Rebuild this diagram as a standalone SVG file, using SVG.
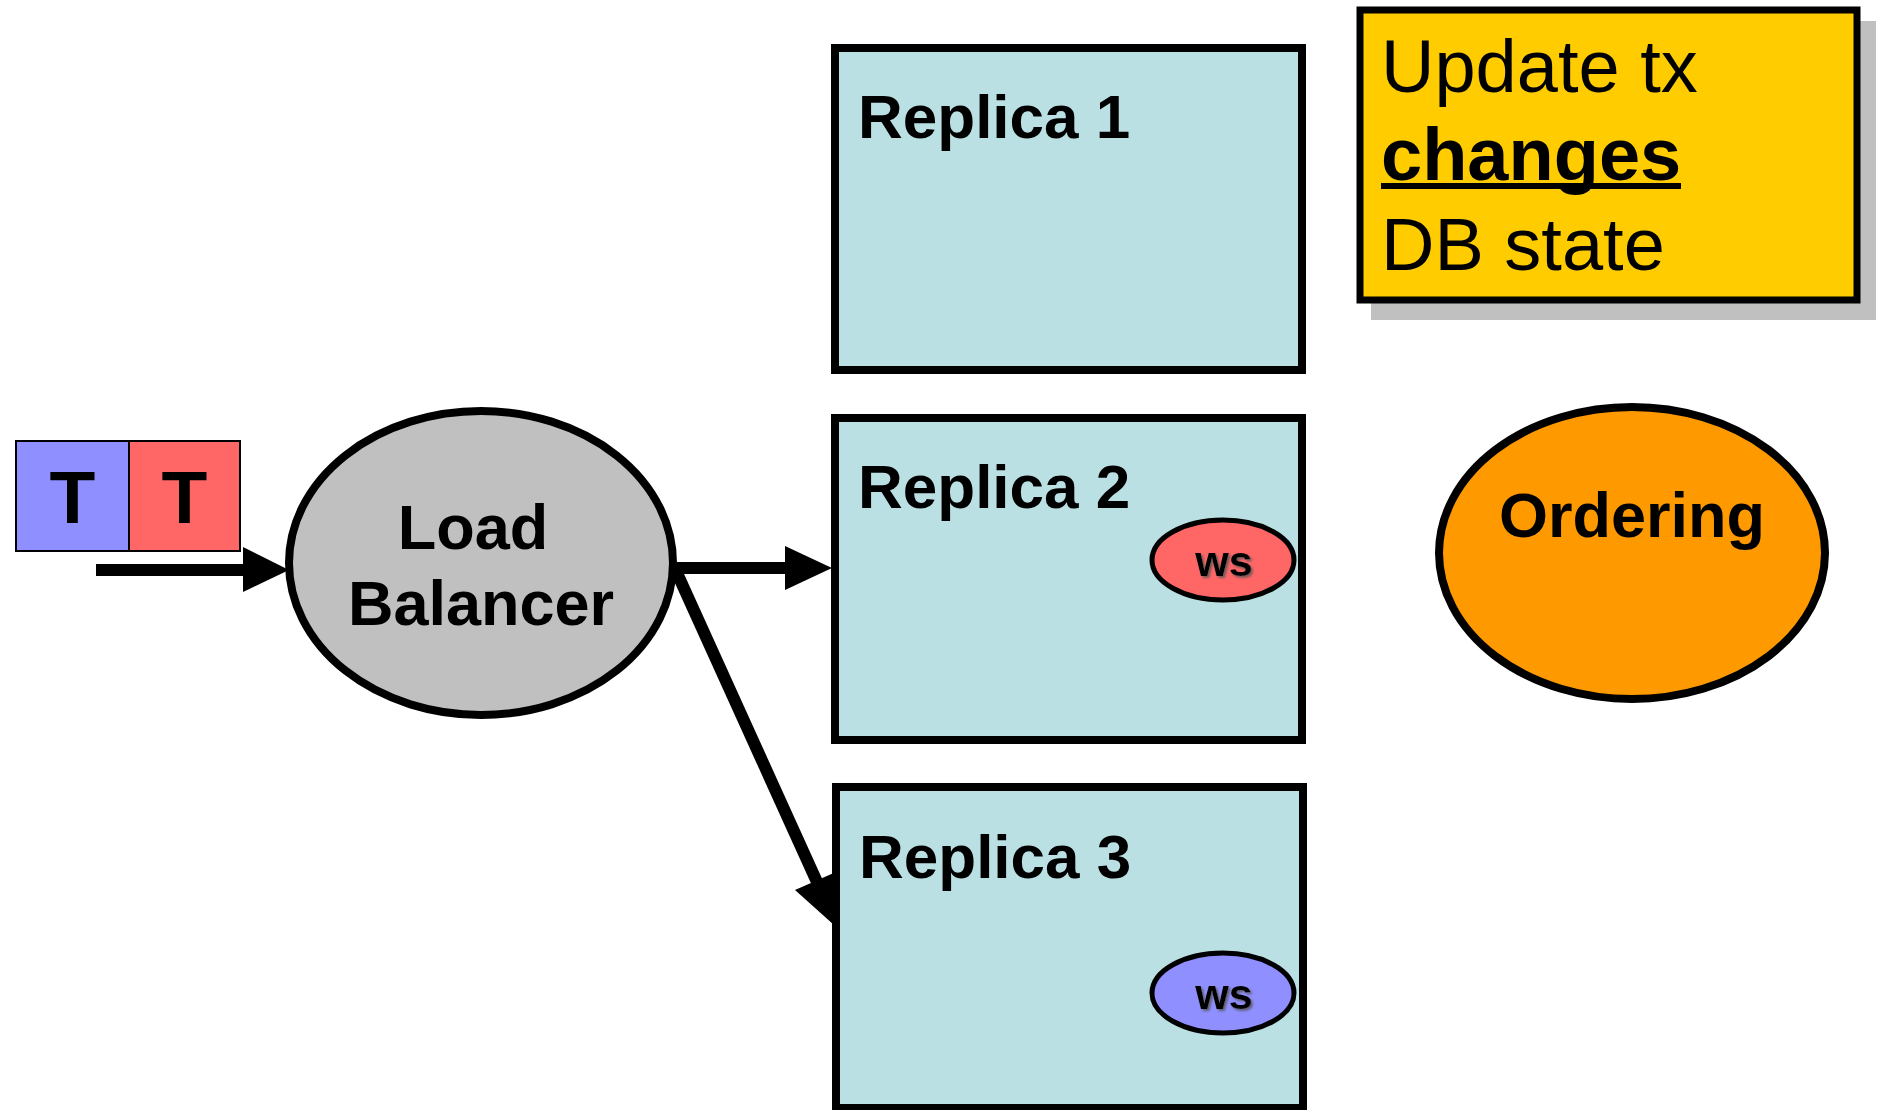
<svg xmlns="http://www.w3.org/2000/svg" width="1878" height="1110" viewBox="0 0 1878 1110">
<defs>
<style>
.b{font-family:"Liberation Sans",Arial,sans-serif;font-weight:bold;fill:#000}
.n{font-family:"Liberation Sans",Arial,sans-serif;fill:#000}
.rep{fill:#BBE0E3;stroke:#000;stroke-width:8}
.conn{stroke:#000;stroke-width:12;fill:none}
.head{fill:#000}
</style>
<filter id="sh" x="-20%" y="-20%" width="140%" height="140%">
<feDropShadow dx="2" dy="2" stdDeviation="1.2" flood-color="#555" flood-opacity="0.8"/>
</filter>
</defs>
<rect width="1878" height="1110" fill="#fff"/>

<g id="tx-blue">
<rect x="16" y="441" width="113" height="110" fill="#8F8FFF" stroke="#000" stroke-width="2"/>
<text class="b" x="72.5" y="523" font-size="75" text-anchor="middle">T</text>
</g>
<g id="tx-red">
<rect x="129" y="441" width="111" height="110" fill="#FF6666" stroke="#000" stroke-width="2"/>
<text class="b" x="184.5" y="523" font-size="75" text-anchor="middle">T</text>
</g>

<g id="load-balancer">
<ellipse cx="481" cy="563" rx="192" ry="152" fill="#C0C0C0" stroke="#000" stroke-width="8"/>
<text class="b" x="473" y="549" font-size="63" text-anchor="middle">Load</text>
<text class="b" x="481" y="625" font-size="63" text-anchor="middle">Balancer</text>
</g>

<g id="replica1">
<rect class="rep" x="835" y="48" width="467" height="322"/>
<text class="b" x="858" y="138" font-size="62">Replica 1</text>
</g>
<g id="replica2">
<rect class="rep" x="835" y="418" width="467" height="322"/>
<text class="b" x="858" y="508" font-size="62">Replica 2</text>
</g>
<g id="ws-red">
<ellipse cx="1223" cy="560" rx="71" ry="40" fill="#FF6666" stroke="#000" stroke-width="5"/>
<text class="b" x="1224" y="576" font-size="43" text-anchor="middle" filter="url(#sh)">ws</text>
</g>
<g id="replica3">
<rect class="rep" x="836" y="787" width="467" height="321"/>
<text class="b" x="859" y="878" font-size="62">Replica 3</text>
</g>
<g id="ws-blue">
<ellipse cx="1223" cy="993" rx="71" ry="40" fill="#8F8FFF" stroke="#000" stroke-width="5"/>
<text class="b" x="1224" y="1009" font-size="43" text-anchor="middle" filter="url(#sh)">ws</text>
</g>

<g id="ordering">
<ellipse cx="1632" cy="553" rx="193" ry="146" fill="#FF9900" stroke="#000" stroke-width="8"/>
<text class="b" x="1632" y="537" font-size="63" text-anchor="middle">Ordering</text>
</g>

<g id="note">
<rect x="1371" y="21" width="505" height="299" fill="#C0C0C0"/>
<rect x="1360" y="10" width="497" height="290" fill="#FFCC00" stroke="#000" stroke-width="7"/>
<text class="n" x="1381" y="92" font-size="74">Update tx</text>
<text class="b" x="1381" y="180" font-size="74">changes</text>
<rect x="1381" y="183" width="300" height="6" fill="#000"/>
<text class="n" x="1381" y="270" font-size="74">DB state</text>
</g>

<g id="connectors">
<line class="conn" x1="96" y1="570" x2="247" y2="570"/>
<polygon class="head" points="243,547 289,570 243,592"/>
<line class="conn" x1="674" y1="568" x2="790" y2="568"/>
<polygon class="head" points="785,546 832,568 785,590"/>
<line class="conn" x1="677" y1="573" x2="817" y2="882"/>
<polygon class="head" points="795,890 836,872 834,925"/>
</g>
</svg>
